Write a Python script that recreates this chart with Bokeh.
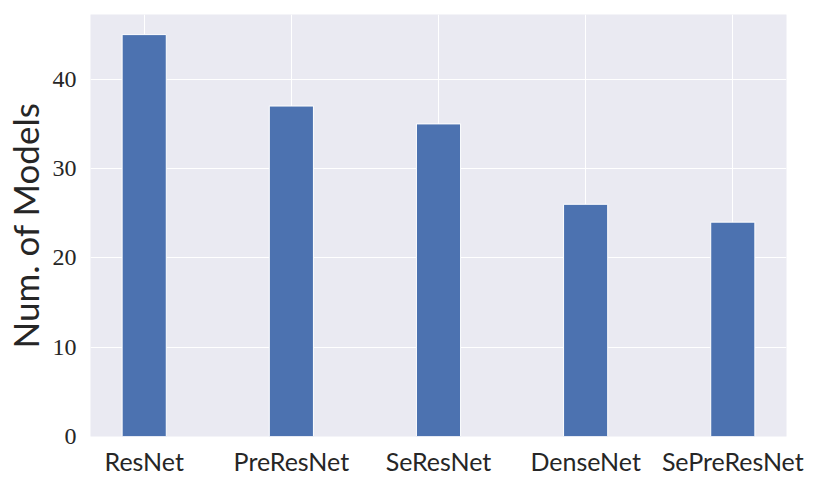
from bokeh.plotting import figure
from bokeh.models import FixedTicker, Range1d, ColumnDataSource
from bokeh.embed import file_html
from bokeh.resources import INLINE

categories = ["ResNet", "PreResNet", "SeResNet", "DenseNet", "SePreResNet"]
counts = [45, 37, 35, 26, 24]
y_ticks = [0, 10, 20, 30, 40]

xs = list(range(len(categories)))
src = ColumnDataSource(dict(x=xs, top=counts))

p = figure(frame_width=696, frame_height=422, output_backend="svg", toolbar_location=None,
           x_range=Range1d(-0.365, len(categories) - 1 + 0.365),
           y_range=Range1d(0, max(counts) * 1.05),
           min_border_left=90, min_border_top=14, min_border_right=28, min_border_bottom=33)
p.background_fill_color = "#EAEAF2"
p.border_fill_color = "white"
p.outline_line_color = None

p.vbar(x="x", top="top", width=0.3, source=src, fill_color="#4C72B0",
       line_color="white", line_width=1)

p.xaxis.ticker = FixedTicker(ticks=xs)
p.xaxis.major_label_overrides = {i: c for i, c in enumerate(categories)}
p.yaxis.ticker = FixedTicker(ticks=y_ticks)

for ax in (p.xaxis[0], p.yaxis[0]):
    ax.axis_line_color = None
    ax.major_tick_line_color = None
    ax.minor_tick_line_color = None
    ax.major_label_text_color = "#262626"

p.xaxis.major_label_text_font = "Lato"
p.xaxis.major_label_text_font_size = "25px"
p.xaxis.major_label_standoff = 3
p.yaxis.major_label_text_font = "Liberation Serif"
p.yaxis.major_label_text_font_size = "24px"
p.yaxis.major_label_standoff = 8
p.yaxis.axis_label = "Num. of Models"
p.yaxis.axis_label_text_font = "Lato"
p.yaxis.axis_label_text_font_style = "normal"
p.yaxis.axis_label_text_font_size = "35px"
p.yaxis.axis_label_text_color = "#262626"
p.yaxis.axis_label_standoff = 4

p.xgrid.grid_line_color = "white"
p.ygrid.grid_line_color = "white"
p.xgrid.grid_line_width = 1
p.ygrid.grid_line_width = 1

open("out.html", "w").write(file_html(p, INLINE))
